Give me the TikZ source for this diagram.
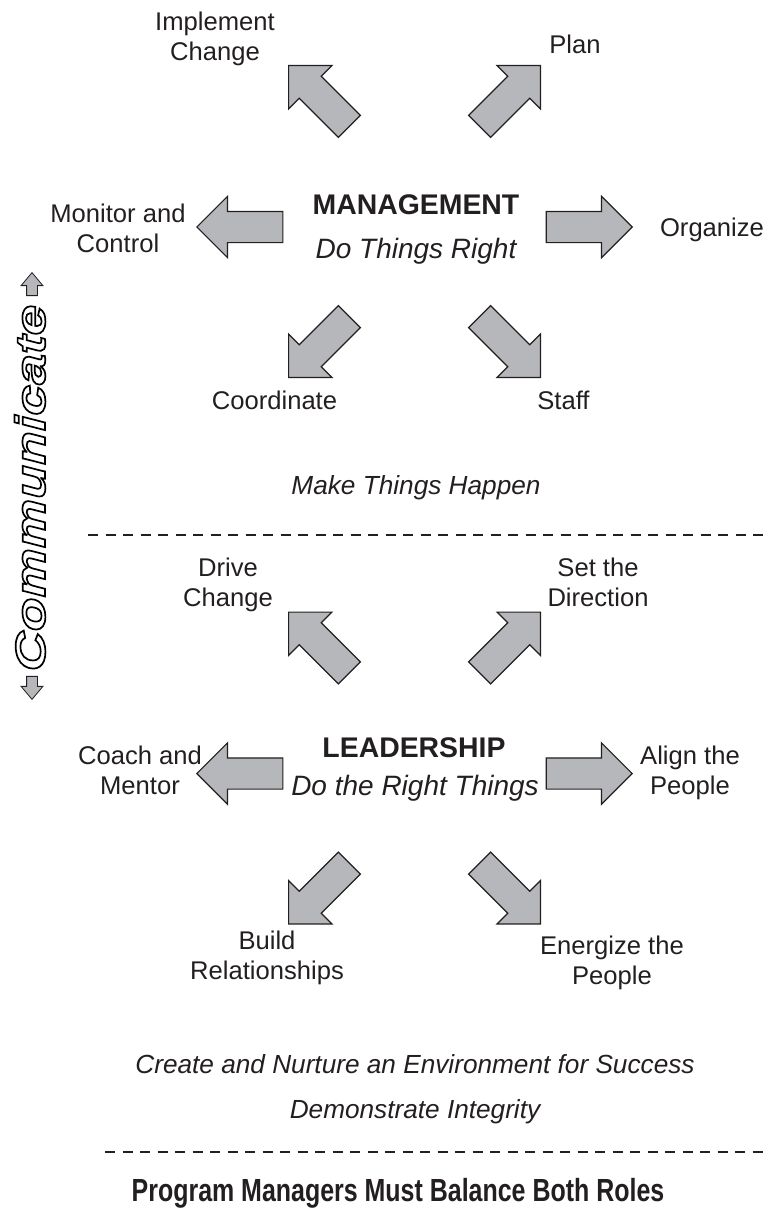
\documentclass[tikz,border=0pt]{standalone}
\usepackage{fontspec}
\setmainfont{Liberation Sans}
\newfontfamily\pmTitleFont[FakeStretch=0.78]{Liberation Sans}
\newfontfamily\pmWideFont[FakeStretch=1.32]{Liberation Sans}
\usepackage{xcolor}
\usepackage{tikz}
\usetikzlibrary{shapes.arrows}
\definecolor{pmInk}{HTML}{231F20}
\definecolor{pmFill}{HTML}{B6B7BA}
% outlined letters: white fill, dark stroke
\newcommand\pmOutline[1]{\special{pdf:literal direct 0 G 2 Tr 1.7 w}#1\special{pdf:literal direct 0 Tr}}
\tikzset{
  pm diagram/.style={text=pmInk, line join=miter},
  pm arrow/.style={single arrow, draw=pmInk, fill=pmFill, line width=1.2pt,
    minimum height=86pt, minimum width=60pt, single arrow head extend=15pt,
    single arrow tip angle=90, inner xsep=0pt, inner ysep=15pt, anchor=tip},
  pm small arrow/.style={pm arrow, line width=0.8pt, minimum height=23pt,
    minimum width=21pt, single arrow head extend=5.5pt, single arrow tip angle=80,
    inner ysep=5pt},
  pm label/.style={align=center, inner sep=0pt, font=\fontsize{25.6}{30}\selectfont},
  pm heading/.style={inner sep=0pt, anchor=base, font=\fontsize{28.4}{34}\selectfont\bfseries},
  pm motto/.style={inner sep=0pt, anchor=base, font=\fontsize{28}{34}\selectfont\itshape},
  pm note/.style={inner sep=0pt, anchor=base, font=\fontsize{26.2}{32}\selectfont\itshape},
  pm divider/.style={draw=pmInk, line width=1.6pt, dash pattern=on 10pt off 7.5pt}
}

\begin{document}
\begin{tikzpicture}[pm diagram,x=1pt,y=-1pt]
\useasboundingbox (0,0) rectangle (766,1212);
% block arrows round both centres, placed by their tips
\foreach \name/\ax/\ay/\ang in {mgPlan/541/65/45,mgImpl/288/65/135,
    mgMon/196/227/180,mgOrg/633/227/0,mgCoord/288/378/225,mgStaff/541/378/-45,
    ldSet/541/611.5/45,ldDrive/288/611.5/135,ldCoach/196/773.5/180,ldAlign/633/773.5/0,
    ldBuild/288/924.5/225,ldEnergy/541/924.5/-45}{
  \node[pm arrow,rotate=\ang] (\name) at (\ax,\ay) {};
}
% management
\node[pm heading] (mgHead) at (416,214) {MANAGEMENT};
\node[pm motto] (mgMotto) at (416,258) {Do Things Right};
\node[pm label,anchor=north] (mgImplTxt) at (215,11.3) {Implement\\Change};
\node[pm label,anchor=base] (mgPlanTxt) at (575,54) {Plan};
\node[pm label,anchor=north] (mgMonTxt) at (118,203.3) {Monitor and\\Control};
\node[pm label,anchor=base] (mgOrgTxt) at (712,236) {Organize};
\node[pm label,anchor=base] (mgCoordTxt) at (274.5,409) {Coordinate};
\node[pm label,anchor=base] (mgStaffTxt) at (563.5,409) {Staff};
\node[pm note] (mgNote) at (416,494) {Make Things Happen};
\coordinate (split1a) at (88,535);
\coordinate (split1b) at (766,535);
\draw[pm divider] (split1a) -- (split1b);
% leadership
\node[pm heading] (ldHead) at (414,757) {LEADERSHIP};
\node[pm motto] (ldMotto) at (415,795) {Do the Right Things};
\node[pm label,anchor=north] (ldDriveTxt) at (228,558) {Drive\\Change};
\node[pm label,anchor=north] (ldSetTxt) at (598,558) {Set the\\Direction};
\node[pm label,anchor=north] (ldCoachTxt) at (140,746) {Coach and\\Mentor};
\node[pm label,anchor=north] (ldAlignTxt) at (690,746) {Align the\\People};
\node[pm label,anchor=north] (ldBuildTxt) at (267,931) {Build\\Relationships};
\node[pm label,anchor=north] (ldEnergyTxt) at (612,936) {Energize the\\People};
\node[pm note] (ldNote) at (415,1073) {Create and Nurture an Environment for Success};
\node[pm note] (ldNoteB) at (415,1118) {Demonstrate Integrity};
\coordinate (split2a) at (105,1152);
\coordinate (split2b) at (766,1152);
\draw[pm divider] (split2a) -- (split2b);
\node[inner sep=0pt,anchor=base,font=\pmTitleFont\bfseries\fontsize{32}{38}\selectfont] (title) at (398,1201) {Program Managers Must Balance Both Roles};
% communicate, on the left edge
\node[rotate=90,text=white,inner sep=0pt,font=\pmWideFont\bfseries\itshape\fontsize{42}{46}\selectfont] (talk) at (30,488) {\pmOutline{Communicate}};
\node[pm small arrow,rotate=90] (talkUp) at (32,272) {};
\node[pm small arrow,rotate=-90] (talkDown) at (32,700) {};
\end{tikzpicture}
\end{document}
